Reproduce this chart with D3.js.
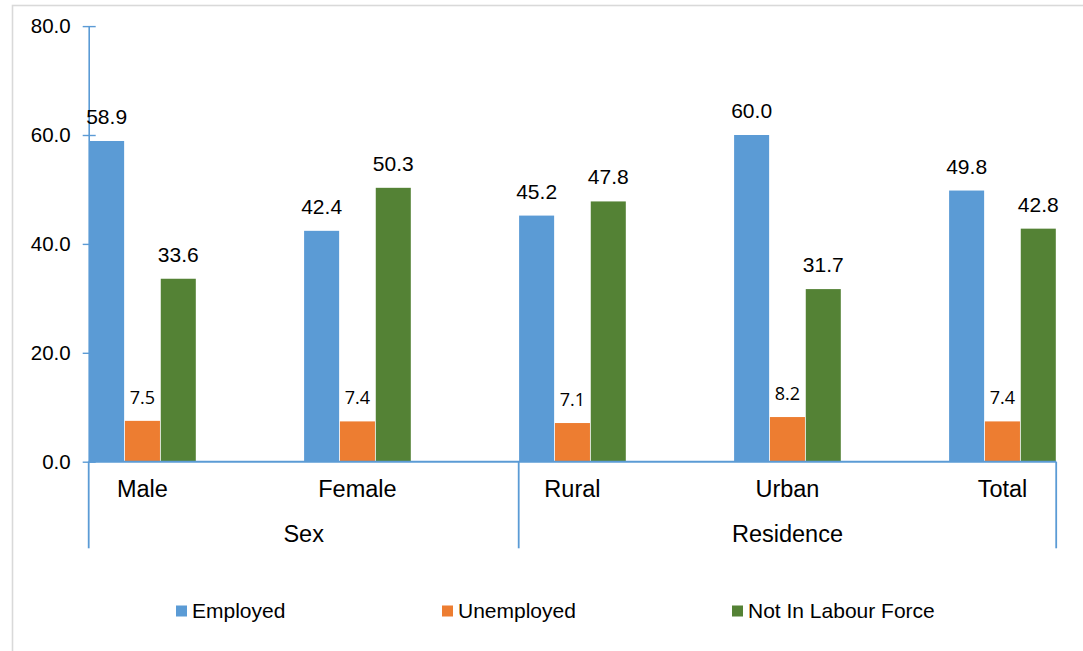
<!DOCTYPE html>
<html>
<head>
<meta charset="utf-8">
<script src="https://cdn.jsdelivr.net/npm/d3@7"></script>
<style>
  html, body { margin: 0; padding: 0; background: #fff; }
  svg { display: block; }
  text { font-family: "Liberation Sans", Arial, sans-serif; fill: #000; }
</style>
</head>
<body>
<svg id="chart" width="1083" height="651"></svg>
<script>
const categories = ["Male", "Female", "Rural", "Urban", "Total"];
const groups = [
  { name: "Sex", first: "Male", last: "Female" },
  { name: "Residence", first: "Rural", last: "Total" }
];
const seriesNames = ["Employed", "Unemployed", "Not In Labour Force"];
const employed = [58.9, 42.4, 45.2, 60.0, 49.8];
const unemployed = [7.5, 7.4, 7.1, 8.2, 7.4];
const notInLabourForce = [33.6, 50.3, 47.8, 31.7, 42.8];
const yTicks = [0, 20, 40, 60, 80];
const colors = ["#5B9BD5", "#ED7D31", "#548235"];

const seriesValues = [employed, unemployed, notInLabourForce];

const svg = d3.select("#chart");
const axisColor = "#5B9BD5";

// outer chart border (light gray), partly cropped
svg.append("rect")
  .attr("x", 12.5).attr("y", 5.5)
  .attr("width", 1200).attr("height", 800)
  .attr("fill", "none").attr("stroke", "#d9d9d9").attr("stroke-width", 1.6);

const plotLeft = 88.7, plotRight = 1056.2, plotTop = 26.1, plotBottom = 461.7;

const y = d3.scaleLinear().domain([0, 80]).range([plotBottom, plotTop]);
const x0 = d3.scaleBand().domain(categories).range([plotLeft, plotRight])
  .paddingInner(0.5).paddingOuter(0);
const x1 = d3.scaleBand().domain(seriesNames).range([0, x0.bandwidth()]).padding(0);

// y axis
const yAxis = d3.axisLeft(y).tickValues(yTicks).tickFormat(d3.format(".1f"))
  .tickSizeInner(6).tickSizeOuter(0).tickPadding(12);
const yg = svg.append("g").attr("transform", `translate(${plotLeft},0)`).call(yAxis);
yg.select(".domain").attr("stroke", axisColor).attr("stroke-width", 1.6);
yg.selectAll(".tick line").attr("stroke", axisColor).attr("stroke-width", 1.4)
  .attr("x1", -6).attr("x2", 7);
yg.selectAll(".tick text")
  .attr("font-family", "Liberation Sans, Arial, sans-serif")
  .attr("font-size", 20.5).attr("fill", "#000");

// bars
const rows = categories.map((c, i) => ({ cat: c, vals: seriesNames.map((s, j) => ({ s, j, v: seriesValues[j][i] })) }));
const cg = svg.append("g").selectAll("g").data(rows).join("g")
  .attr("transform", d => `translate(${x0(d.cat)},0)`);
cg.selectAll("rect").data(d => d.vals).join("rect")
  .attr("x", d => x1(d.s) + 0.4)
  .attr("width", x1.bandwidth() - 0.8)
  .attr("y", d => y(d.v))
  .attr("height", d => y(0) - y(d.v))
  .attr("fill", d => colors[d.j]);

// data labels
cg.selectAll("text").data(d => d.vals).join("text")
  .attr("x", d => x1(d.s) + x1.bandwidth() / 2)
  .attr("y", d => y(d.v) - 17)
  .attr("text-anchor", "middle")
  .style("font-family", d => d.j === 1 ? "'Open Sans', sans-serif" : "'Liberation Sans', Arial, sans-serif")
  .attr("font-size", d => d.j === 1 ? 18 : 21)
  .text(d => d3.format(".1f")(d.v));

// x axis line
svg.append("line")
  .attr("x1", plotLeft).attr("x2", plotRight)
  .attr("y1", y(0)).attr("y2", y(0))
  .attr("stroke", axisColor).attr("stroke-width", 2);

// group separators
const sepBottom = 548.3;
const sepXs = [x0("Male"), x0("Rural"), plotRight];
svg.append("g").selectAll("line").data(sepXs).join("line")
  .attr("x1", d => d).attr("x2", d => d)
  .attr("y1", y(0)).attr("y2", sepBottom)
  .attr("stroke", axisColor).attr("stroke-width", 1.8);

// category labels
svg.append("g").selectAll("text").data(categories).join("text")
  .attr("x", d => x0(d) + x0.bandwidth() / 2)
  .attr("y", 497)
  .attr("text-anchor", "middle")
  .attr("font-size", 23.5)
  .text(d => d);

// group labels
const groupEnd = g => g.last === categories[categories.length - 1] ? plotRight : x0(categories[categories.indexOf(g.last) + 1]);
svg.append("g").selectAll("text").data(groups).join("text")
  .attr("x", g => (x0(g.first) + groupEnd(g)) / 2)
  .attr("y", 541.5)
  .attr("text-anchor", "middle")
  .attr("font-size", 23.5)
  .text(g => g.name);

// legend
const legendX = [176, 442, 732];
const lg = svg.append("g").selectAll("g").data(seriesNames).join("g")
  .attr("transform", (d, i) => `translate(${legendX[i]},0)`);
lg.append("rect").attr("x", 0).attr("y", 605.5).attr("width", 11).attr("height", 11)
  .attr("fill", (d, i) => colors[i]);
lg.append("text").attr("x", 16).attr("y", 618.3).attr("font-size", 21).text(d => d);
</script>
</body>
</html>
